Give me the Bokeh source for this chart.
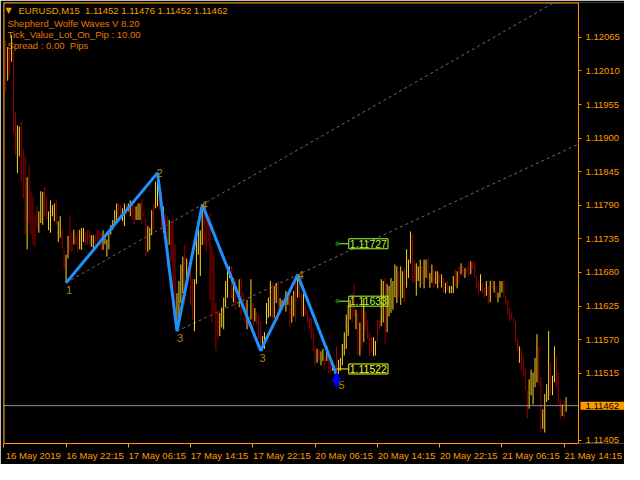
from bokeh.plotting import figure
from bokeh.models import (Range1d, FixedTicker, Label, Span, ColumnDataSource,
                          PrintfTickFormatter, Arrow, NormalHead, AllLabels)
from bokeh.embed import file_html
from bokeh.resources import INLINE

# ---------------- data (prices in points above 1.11000) ----------------
BASE = 1.11000
PT = 0.00001

highs_pts = [
    1059, 1049, 1046, 1068, 1043, 942, 921, 919, 927, 883,
    872, 836, 856, 813, 804, 774, 788, 780, 813, 812,
    820, 804, 780, 798, 790, 793, 798, 764, 772, 750,
    718, 709, 740, 774, 745, 750, 741, 749, 750, 753,
    753, 745, 750, 750, 741, 741, 742, 749, 750, 745,
    749, 741, 734, 745, 758, 766, 782, 793, 793, 790,
    785, 793, 790, 793, 798, 793, 790, 788, 793, 793,
    801, 780, 769, 756, 753, 782, 793, 829, 843, 824,
    813, 788, 777, 772, 766, 758, 766, 726, 646, 666,
    693, 706, 725, 703, 690, 690, 669, 669, 750, 758,
    749, 791, 788, 777, 769, 777, 725, 709, 631, 619,
    614, 623, 639, 666, 690, 690, 690, 671, 669, 650,
    669, 671, 647, 630, 635, 608, 669, 630, 622, 616,
    611, 600, 576, 582, 630, 639, 666, 663, 658, 663,
    666, 638, 635, 642, 650, 646, 650, 642, 650, 669,
    676, 674, 646, 646, 627, 619, 606, 606, 590, 560,
    555, 555, 551, 555, 544, 560, 551, 540, 535, 528,
    559, 537, 540, 563, 582, 611, 627, 635, 646, 661,
    619, 614, 598, 635, 638, 616, 603, 582, 574, 574,
    568, 603, 603, 669, 666, 671, 661, 658, 671, 666,
    693, 690, 682, 690, 682, 687, 718, 701, 747, 742,
    701, 695, 690, 701, 690, 701, 701, 703, 679, 693,
    685, 682, 682, 677, 677, 671, 663, 666, 658, 658,
    674, 685, 682, 690, 695, 690, 687, 690, 698, 698,
    698, 698, 674, 666, 677, 663, 655, 666, 658, 666,
    669, 666, 658, 647, 666, 666, 666, 642, 635, 622,
    614, 606, 600, 571, 559, 555, 543, 524, 487, 505,
    521, 516, 540, 579, 560, 508, 456, 481, 497, 584,
    532, 511, 559, 543, 516, 473, 464, 471, 476,
]
lows_pts = [
    975, 994, 1002, 1025, 908, 872, 843, 870, 829, 801,
    742, 718, 761, 741, 726, 722, 753, 745, 761, 758,
    772, 766, 749, 745, 772, 764, 758, 730, 737, 718,
    685, 663, 703, 714, 714, 726, 725, 714, 718, 717,
    730, 725, 725, 725, 722, 718, 725, 730, 726, 718,
    717, 726, 706, 718, 742, 750, 758, 764, 761, 769,
    764, 756, 774, 780, 772, 766, 758, 766, 766, 766,
    758, 772, 706, 714, 717, 741, 750, 785, 788, 782,
    750, 745, 730, 687, 725, 698, 655, 619, 584, 598,
    630, 646, 627, 666, 669, 627, 603, 584, 661, 709,
    674, 725, 725, 714, 730, 635, 598, 611, 552, 571,
    576, 590, 587, 623, 639, 671, 638, 631, 619, 638,
    623, 608, 623, 598, 587, 590, 603, 590, 600, 595,
    571, 552, 552, 555, 595, 606, 608, 603, 606, 630,
    600, 614, 619, 627, 616, 627, 590, 598, 608, 600,
    639, 639, 608, 608, 608, 598, 587, 571, 551, 528,
    532, 535, 528, 535, 521, 535, 516, 515, 519, 514,
    513, 514, 519, 528, 544, 555, 576, 603, 598, 608,
    587, 544, 544, 555, 566, 587, 571, 543, 551, 543,
    544, 566, 587, 592, 598, 563, 582, 608, 614, 619,
    639, 630, 639, 627, 638, 631, 655, 671, 695, 663,
    663, 642, 666, 655, 661, 654, 671, 669, 655, 663,
    655, 661, 654, 663, 655, 647, 646, 650, 646, 646,
    646, 658, 654, 661, 677, 674, 671, 679, 674, 677,
    685, 671, 654, 646, 650, 646, 639, 642, 627, 631,
    655, 647, 638, 631, 639, 647, 639, 627, 611, 600,
    603, 598, 566, 551, 532, 519, 511, 487, 441, 457,
    479, 464, 492, 500, 495, 418, 424, 418, 468, 471,
    479, 479, 500, 492, 465, 440, 445, 441, 452,
]
# Y = up bar, R = down bar
bar_dir = ("RYRYRRYYRR" "RYRRRRRYYY" "RRYYYYRYYR" "RYYRRYRRYY" "YRRRYYRRRR"
           "YYYYYYYYRR" "YYRYYRRYYY" "RRRYYYRYYR" "RYRRYRRRYY" "YYRYRRRYYY"
           "YYRRRRRRRR" "YYYYYYRYRR" "YRRRYRYRYR" "RRYYYYYRYY" "RYYRYYRYYR"
           "YRRYRRRRRR" "YRYYRYRRYY" "RYYYYYYYRR" "YRYRYRRRRY" "YRRYYRYYYY"
           "YYRYYRYYYR" "RYYYRYYRYY" "RYYRYRYRYY" "YRYRYRYRRY" "RRRRYRRYRY"
           "RYRYYYRRRR" "RRRRYRRRRY" "YYYYRRYYYY" "RYYRRRYRY")

wave_bar = [32, 79, 89, 102, 132, 151, 171]
wave_price = [1.11663, 1.11843, 1.11584, 1.11791, 1.11552, 1.11676, 1.11513]
wave_text = ["1", "2", "3", "4", "3", "4", "5"]

target_price = [1.11727, 1.11633, 1.11522]

xtick_bar = [0, 32, 64, 96, 128, 160, 192, 224, 256, 288]
xtick_text = ["16 May 2019", "16 May 22:15", "17 May 06:15", "17 May 14:15",
              "17 May 22:15", "20 May 06:15", "20 May 14:15", "20 May 22:15",
              "21 May 06:15", "21 May 14:15"]
ytick_price = [1.11405, 1.11515, 1.11570, 1.11625, 1.11680, 1.11735,
               1.11790, 1.11845, 1.11900, 1.11955, 1.12010, 1.12065]
last_ohlc = [1.11452, 1.11476, 1.11452, 1.11462]
NB = "\u00A0"
info_lines = ["Shepherd_Wolfe Waves V 8.20", "Tick_Value_Lot_On_Pip : 10.00",
              "Spread : 0.00 " + NB + "Pips"]

# ---------------- style ----------------
ORANGE = "#FF9900"
UP = "#FFD21E"
DOWN = "#9B0000"
WAVE = "#1E90FF"
FONT = "Liberation Sans"

X0, CHART_END, X1 = -0.15, 295.35, 319.0   # chart area, then room for the price scale
Y0, Y1 = 1.11400, 1.12122

n = len(highs_pts)
xs = list(range(1, n + 1))
src = ColumnDataSource(dict(
    x=xs,
    high=[BASE + h * PT for h in highs_pts],
    low=[BASE + l * PT for l in lows_pts],
    color=[UP if d == "Y" else DOWN for d in bar_dir],
))

p = figure(width=624, height=464, output_backend="svg", toolbar_location=None,
           x_range=Range1d(X0, X1), y_range=Range1d(Y0, Y1),
           y_axis_location="right", min_border_left=3, min_border_right=0,
           min_border_top=2, min_border_bottom=21)
p.background_fill_color = "black"
p.border_fill_color = "black"
p.outline_line_color = None
p.grid.visible = False

# price scale, drawn at the right edge of the chart area
yax = p.yaxis[0]
yax.fixed_location = CHART_END
yax.ticker = FixedTicker(ticks=ytick_price)
yax.formatter = PrintfTickFormatter(format="%.5f")
yax.axis_line_color = ORANGE
yax.major_tick_line_color = ORANGE
yax.major_tick_out = 3
yax.major_tick_in = 0
yax.minor_tick_line_color = None
yax.major_label_text_color = ORANGE
yax.major_label_text_font = FONT
yax.major_label_text_font_size = "9.5px"
yax.major_label_standoff = 4

# time scale: labels start at their tick (left part padded with no-break spaces)
xax = p.xaxis[0]
xax.bounds = (X0, CHART_END)
xax.ticker = FixedTicker(ticks=xtick_bar)
overrides = {}
for k, (t, lab) in enumerate(zip(xtick_bar, xtick_text)):
    pad = 2 if k == 0 else 22
    overrides[t] = NB * pad + lab
xax.major_label_overrides = overrides
xax.major_label_policy = AllLabels()
xax.major_label_standoff = 2
xax.major_label_text_color = ORANGE
xax.major_label_text_font = FONT
xax.major_label_text_font_size = "9.5px"
xax.axis_line_color = ORANGE
xax.major_tick_line_color = ORANGE
xax.major_tick_out = 4
xax.major_tick_in = 0
xax.minor_tick_line_color = None

# chart frame: left and top borders
p.add_layout(Span(location=X0, dimension="height", line_color=ORANGE, line_width=2))
p.line([X0, CHART_END], [Y1, Y1], line_color=ORANGE, line_width=2)

# dashed Wolfe lines (1 -> 4 and 3 -> 4), extended to the chart edge
for a, b in [(0, 3), (2, 5)]:
    slope = (wave_price[b] - wave_price[a]) / (wave_bar[b] - wave_bar[a])
    p.line([wave_bar[a], CHART_END],
           [wave_price[a], wave_price[a] + slope * (CHART_END - wave_bar[a])],
           line_color="#6A6A6A", line_width=1, line_dash="3 3")

# bars
p.segment(x0="x", y0="low", x1="x", y1="high", line_color="color", line_width=1, source=src)

# bid line
p.line([X0, CHART_END], [last_ohlc[3], last_ohlc[3]], line_color="#8C8F99", line_width=1)

# zigzag
p.line(wave_bar, wave_price, line_color=WAVE, line_width=3)

# wave labels
wave_off = [(3, -7), (2, 0), (3, -7), (2, 0), (2, -7), (3, 0), (5, -11)]
for b, pr, t, (dx, dy) in zip(wave_bar, wave_price, wave_text, wave_off):
    p.add_layout(Label(x=b, y=pr, x_offset=dx, y_offset=dy, text=t, text_align="center",
                       text_baseline="middle", text_color="#B8860B",
                       text_font=FONT, text_font_size="11px"))

# arrow at point 5
ppx = (Y1 - Y0) / 441.0
p.add_layout(Arrow(end=NormalHead(size=9, fill_color="#0000FF", line_color="#0000FF"),
                   x_start=wave_bar[6], y_start=wave_price[6] - 12 * ppx,
                   x_end=wave_bar[6], y_end=wave_price[6] + 2 * ppx,
                   line_color="#0000FF", line_width=4))

# targets
t_line = ["#ADFF2F", "#ADFF2F", "#FFFF00"]
t_text = ["#ADFF2F", "#ADFF2F", "#E6FF2A"]
x_lab = wave_bar[6] + 6.3
for k, tp in enumerate(target_price):
    x0 = wave_bar[6] + (0.5 if k < 2 else 0.0)
    p.segment(x0=[x0], y0=[tp], x1=[x_lab], y1=[tp], line_color=t_line[k], line_width=1)
    if k < 2:
        p.scatter([x0], [tp], marker="square", size=3, color="#007000")
    p.add_layout(Label(x=x_lab, y=tp, text=f"{tp:.5f}", text_align="left",
                       text_baseline="middle", text_color=t_text[k], text_font=FONT,
                       text_font_size="10.5px", border_line_color=t_line[k],
                       border_line_width=1, padding=1))

# bid price box on the price scale
p.add_layout(Label(x=CHART_END, y=last_ohlc[3], x_offset=2, text=f"{last_ohlc[3]:.5f}",
                   text_align="left", text_baseline="middle", text_color="black",
                   text_font=FONT, text_font_size="9.5px",
                   background_fill_color=ORANGE, padding=(5, 1)))

# header texts
p.add_layout(Label(x=X0, y=Y1, x_offset=2, y_offset=-8, text="\u25BC", text_align="left",
                   text_baseline="middle", text_color=ORANGE, text_font="DejaVu Sans",
                   text_font_size="8px"))
header = "EURUSD,M15 " + NB + " ".join(f"{v:.5f}" for v in last_ohlc)
p.add_layout(Label(x=X0, y=Y1, x_offset=15, y_offset=-8, text=header, text_align="left",
                   text_baseline="middle", text_color="#F0A000", text_font=FONT,
                   text_font_size="9.5px"))
for k, line in enumerate(info_lines):
    p.add_layout(Label(x=X0, y=Y1, x_offset=4, y_offset=-(21 + 11.2 * k), text=line,
                       text_align="left", text_baseline="middle", text_color="#E87800",
                       text_font=FONT, text_font_size="9.5px"))

open("out.html", "w").write(file_html(p, INLINE))
